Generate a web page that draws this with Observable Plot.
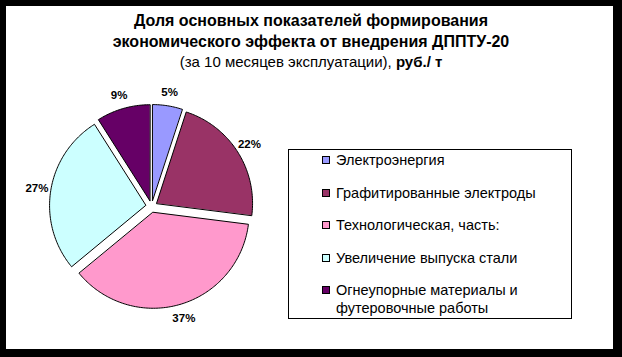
<!DOCTYPE html>
<html>
<head>
<meta charset="utf-8">
<script src="https://cdn.jsdelivr.net/npm/d3@7"></script>
<script src="https://cdn.jsdelivr.net/npm/@observablehq/plot@0.6"></script>
<style>
  html, body { margin: 0; padding: 0; }
  body { width: 622px; height: 357px; background: #000; position: relative; overflow: hidden; font-family: Arial, "Liberation Sans", sans-serif; }
  #panel { position: absolute; left: 6px; top: 6px; width: 607px; height: 343px; background: #fff; }
  #title { position: absolute; left: -6px; top: 5px; width: 622px; text-align: center; font-size: 16px; line-height: 20.5px; color: #000; }
  #title .b { font-weight: bold; }
  #title .sub { font-size: 15px; }
  #chart { position: absolute; left: -5px; top: 64px; }
  #legend { position: absolute; left: 282px; top: 143px; width: 282px; height: 168px; border: 1px solid #000; background: #fff; }
  .item { position: absolute; left: 33px; font-size: 14.5px; line-height: 17.5px; color: #000; }
  .sw { position: absolute; left: 0; top: 4px; width: 8px; height: 8px; border: 1px solid #000; box-sizing: border-box; }
  .txt { position: absolute; left: 14px; top: 0; width: 215px; }
</style>
</head>
<body>
<div id="panel">
  <div id="title">
    <div class="b">Доля основных показателей формирования</div>
    <div class="b">экономического эффекта от внедрения ДППТУ-20</div>
    <div class="sub">(за 10 месяцев эксплуатации), <span class="b">руб./ т</span></div>
  </div>
  <div id="chart"></div>
  <div id="legend"></div>
</div>
<script>
// ---- data ----
const categories = ["Электроэнергия", "Графитированные электроды", "Технологическая, часть:", "Увеличение выпуска стали", "Огнеупорные материалы и футеровочные работы"];
const shares = [5, 22, 37, 27, 9];
const shareLabels = ["5%", "22%", "37%", "27%", "9%"];
const colors = ["#9999FF", "#993366", "#FF99CC", "#CCFFFF", "#660066"];

// ---- geometry derived from data ----
const R = 96, EXPLODE = 6, LABEL_R = 116;
const arcs = d3.pie().sort(null).value(d => d.v)(categories.map((c, i) => ({c, v: shares[i], l: shareLabels[i]})));
const polys = [];
const labelPts = [];
arcs.forEach(a => {
  const mid = (a.startAngle + a.endAngle) / 2;
  const ox = EXPLODE * Math.sin(mid), oy = EXPLODE * Math.cos(mid);
  polys.push({cat: a.data.c, x: ox, y: oy});
  const n = Math.max(4, Math.ceil((a.endAngle - a.startAngle) / (Math.PI / 180)));
  for (let k = 0; k <= n; k++) {
    const t = a.startAngle + (a.endAngle - a.startAngle) * k / n;
    polys.push({cat: a.data.c, x: ox + R * Math.sin(t), y: oy + R * Math.cos(t)});
  }
  labelPts.push({x: LABEL_R * Math.sin(mid), y: LABEL_R * Math.cos(mid), text: a.data.l});
});

const chart = Plot.plot({
  width: 300,
  height: 272,
  margin: 0,
  x: {domain: [-150, 150], axis: null},
  y: {domain: [-136, 136], axis: null},
  color: {domain: categories, range: colors},
  style: {background: "transparent", overflow: "visible", fontFamily: "Arial, 'Liberation Sans', sans-serif"},
  marks: [
    Plot.line(polys, {x: "x", y: "y", z: "cat", fill: "cat", stroke: "#000", strokeWidth: 1, curve: "linear-closed"}),
    Plot.text(labelPts, {x: "x", y: "y", text: "text", fontSize: 11.5, fontWeight: "bold", fill: "#000"})
  ]
});
document.getElementById("chart").appendChild(chart);

// ---- legend ----
const legend = document.getElementById("legend");
categories.forEach((c, i) => {
  const it = document.createElement("div");
  it.className = "item";
  it.style.top = (2 + i * 32.5) + "px";
  const sw = document.createElement("div");
  sw.className = "sw";
  sw.style.background = colors[i];
  const tx = document.createElement("div");
  tx.className = "txt";
  tx.textContent = c;
  it.appendChild(sw);
  it.appendChild(tx);
  legend.appendChild(it);
});
</script>
</body>
</html>
